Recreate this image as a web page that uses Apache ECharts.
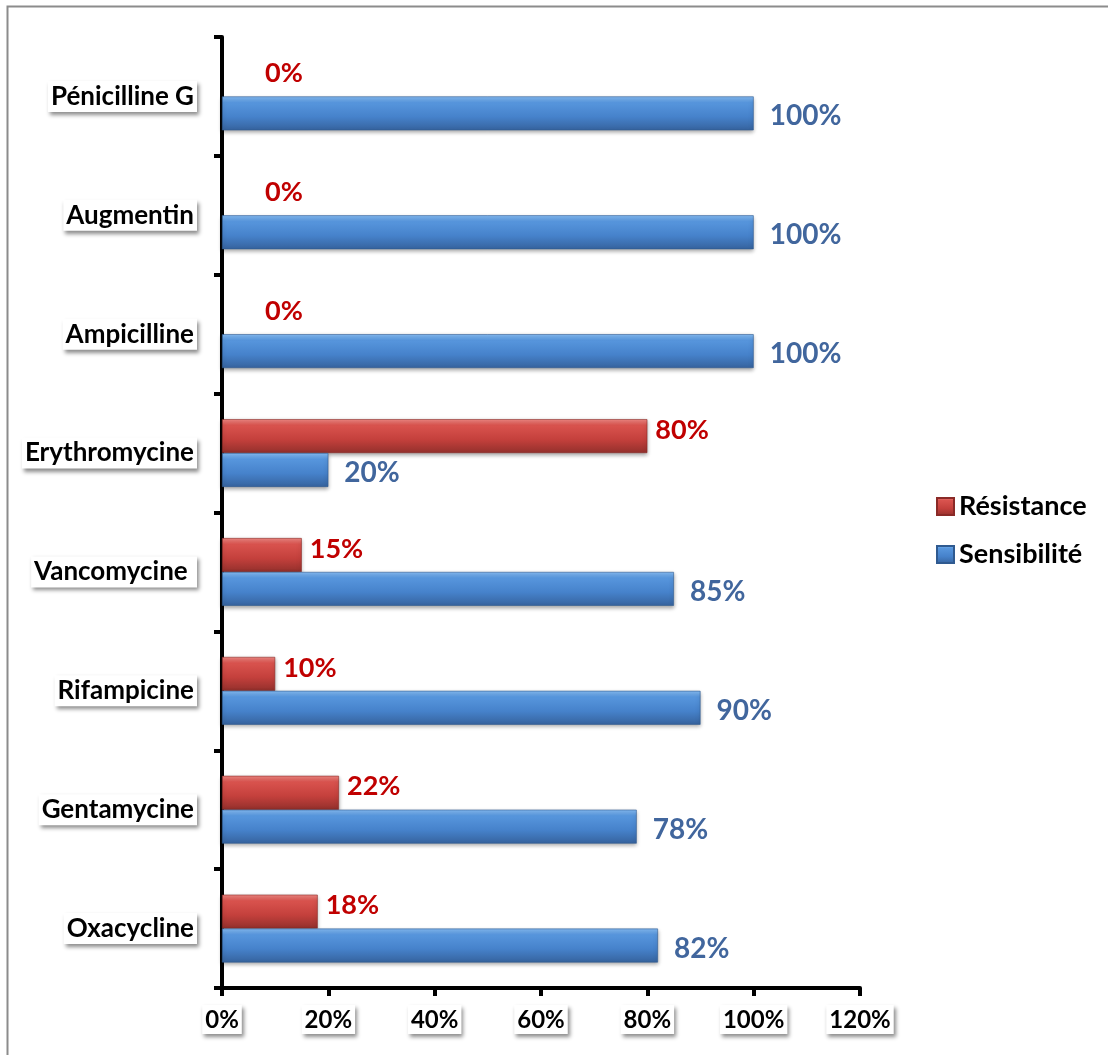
<!DOCTYPE html>
<html>
<head>
<meta charset="utf-8">
<script src="https://cdn.jsdelivr.net/npm/echarts@6/dist/echarts.min.js"></script>
<style>html,body{margin:0;padding:0;background:#fff}#c{width:1108px;height:1055px}</style>
</head>
<body>
<div id="c"></div>
<script>
const categories = ['Oxacycline', 'Gentamycine', 'Rifampicine', 'Vancomycine ', 'Erythromycine', 'Ampicilline', 'Augmentin', 'Pénicilline G'];
const resistance = [18, 22, 10, 15, 80, 0, 0, 0];
const sensibilite = [82, 78, 90, 85, 20, 100, 100, 100];
const seriesNames = ['Résistance', 'Sensibilité'];
const xTicks = { min: 0, max: 120, interval: 20 };

const FONT = 'Lato';
const chart = echarts.init(document.getElementById('c'));
const boxLabel = {
  fontFamily: FONT, fontWeight: 'bold', color: '#000',
  backgroundColor: '#fff', padding: [3, 3, 2, 3],
  shadowColor: 'rgba(0,0,0,0.45)', shadowBlur: 4, shadowOffsetX: 2, shadowOffsetY: 3
};
const redGrad = new echarts.graphic.LinearGradient(0, 0, 0, 1, [
  { offset: 0, color: '#F08883' }, { offset: 0.18, color: '#D9534E' },
  { offset: 0.6, color: '#C4403C' }, { offset: 1, color: '#93302C' }]);
const blueGrad = new echarts.graphic.LinearGradient(0, 0, 0, 1, [
  { offset: 0, color: '#86BDF5' }, { offset: 0.18, color: '#5796DD' },
  { offset: 0.6, color: '#4682CB' }, { offset: 1, color: '#36639E' }]);

function mk(vals, dist0, dist) {
  return vals.map(v => v === 0
    ? { value: v, label: { distance: dist0 },
        itemStyle: { color: 'rgba(0,0,0,0)', borderWidth: 0, shadowColor: 'rgba(0,0,0,0)', shadowBlur: 0 } }
    : { value: v, label: { distance: dist } });
}

chart.setOption({
  animation: false,
  graphic: [{
    type: 'rect', shape: { x: 7.5, y: 6.5, width: 1200, height: 1200 },
    style: { fill: 'none', stroke: '#8c8c8c', lineWidth: 2 }, silent: true
  }],
  legend: {
    orient: 'vertical', left: 931, top: 488, itemGap: 21,
    itemWidth: 17, itemHeight: 17, icon: 'rect',
    data: seriesNames,
    textStyle: { fontFamily: FONT, fontWeight: 'bold', fontSize: 27, color: '#000' }
  },
  grid: { left: 222, right: 248, top: 37, bottom: 67, containLabel: false },
  xAxis: {
    type: 'value', min: xTicks.min, max: xTicks.max, interval: xTicks.interval,
    axisLine: { show: true, lineStyle: { color: '#000', width: 4 } },
    axisTick: { show: true, length: 8, lineStyle: { color: '#000', width: 4 } },
    splitLine: { show: false },
    axisLabel: Object.assign({ formatter: '{value}%', margin: 17, fontSize: 24 }, boxLabel)
  },
  yAxis: {
    type: 'category', data: categories,
    axisLine: { show: true, lineStyle: { color: '#000', width: 4 } },
    axisTick: { show: true, length: 8, lineStyle: { color: '#000', width: 4 } },
    axisLabel: Object.assign({ margin: 25, fontSize: 26 }, boxLabel)
  },
  series: [
    {
      name: seriesNames[0], type: 'bar', data: mk(resistance, 43, 8),
      barGap: '0%', barCategoryGap: '43%',
      itemStyle: { color: redGrad, borderColor: '#8a2a27', borderWidth: 0.6,
        shadowColor: 'rgba(0,0,0,0.35)', shadowBlur: 4, shadowOffsetY: 2 },
      label: { show: true, position: 'right', formatter: '{c}%', offset: [0, -6],
        fontFamily: FONT, fontWeight: 'bold', fontSize: 27, color: '#C00000' }
    },
    {
      name: seriesNames[1], type: 'bar', data: mk(sensibilite, 15, 16),
      barGap: '0%', barCategoryGap: '43%',
      itemStyle: { color: blueGrad, borderColor: '#2f5a90', borderWidth: 0.6,
        shadowColor: 'rgba(0,0,0,0.35)', shadowBlur: 4, shadowOffsetY: 2 },
      label: { show: true, position: 'right', formatter: '{c}%', offset: [0, 3],
        fontFamily: FONT, fontWeight: 'bold', fontSize: 28, color: '#41669D' }
    }
  ]
});
</script>
</body>
</html>
